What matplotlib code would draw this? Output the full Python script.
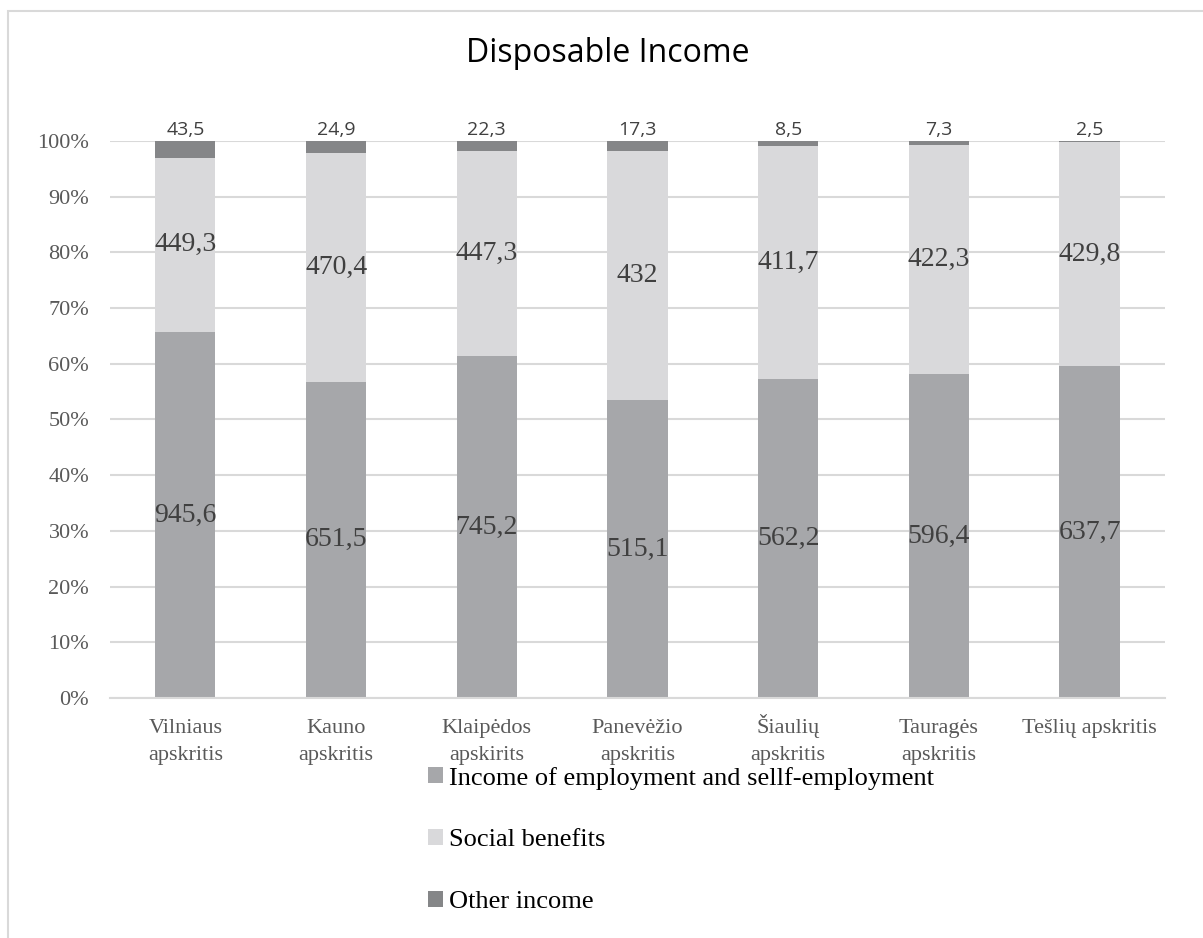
import numpy as np
import matplotlib
matplotlib.use("Agg")
import matplotlib.pyplot as plt
from matplotlib.patches import Patch, Rectangle
from matplotlib.transforms import offset_copy

# --- data ---
categories = ["Vilniaus\napskritis", "Kauno\napskritis", "Klaipėdos\napskirits",
              "Panevėžio\napskritis", "Šiaulių\napskritis", "Tauragės\napskritis",
              "Tešlių apskritis"]
employment = [945.6, 651.5, 745.2, 515.1, 562.2, 596.4, 637.7]
social = [449.3, 470.4, 447.3, 432, 411.7, 422.3, 429.8]
other = [43.5, 24.9, 22.3, 17.3, 8.5, 7.3, 2.5]
series_names = ["Income of employment and sellf-employment", "Social benefits", "Other income"]
colors = ["#a6a7aa", "#d9d9db", "#858688"]

def fmt(v):
    s = f"{v:.1f}".replace(".", ",")
    return s[:-2] if s.endswith(",0") else s

emp = np.array(employment)
soc = np.array(social)
oth = np.array(other)
tot = emp + soc + oth
p_emp = emp / tot * 100
p_soc = soc / tot * 100
p_oth = oth / tot * 100

fig = plt.figure(figsize=(12.03, 9.38), dpi=100)
ax = fig.add_axes([110/1203, 1 - 698/938, (1165-110)/1203, (698-141)/938])

x = np.arange(len(categories))
w = 0.4
ax.bar(x, p_emp, w, color=colors[0], zorder=2)
ax.bar(x, p_soc, w, bottom=p_emp, color=colors[1], zorder=2)
ax.bar(x, p_oth, w, bottom=p_emp + p_soc, color=colors[2], zorder=2)

serif = "Liberation Serif"
for i in range(len(x)):
    ax.text(x[i], p_emp[i] / 2, fmt(emp[i]), ha="center", va="center",
            fontsize=20, family=serif, color="#404040", zorder=3)
    ax.text(x[i], p_emp[i] + p_soc[i] / 2, fmt(soc[i]), ha="center", va="center",
            fontsize=20, family=serif, color="#404040", zorder=3)
    ax.text(x[i], 100.4, fmt(oth[i]), ha="center", va="bottom",
            fontsize=14, family="Open Sans", color="#404040", zorder=3)

ax.set_xlim(-0.5, len(x) - 0.5)
ax.set_ylim(0, 100)
ax.set_yticks(np.arange(0, 101, 10))
ax.set_yticklabels([f"{v}%" for v in range(0, 101, 10)], family=serif, fontsize=16, color="#595959")
ax.set_xticks(x)
ax.set_xticklabels([])
ax.tick_params(length=0)
ax.tick_params(axis="y", pad=15)

# category labels, each line on its own baseline
for i, cat in enumerate(categories):
    for j, line in enumerate(cat.split("\n")):
        tr = offset_copy(ax.get_xaxis_transform(), fig=fig, x=0, y=-(25.2 + 19.6 * j), units="points")
        ax.text(x[i], 0, line, transform=tr, ha="center", va="baseline",
                family=serif, fontsize=16, color="#595959", clip_on=False)

ax.grid(axis="y", color="#d9d9d9", linewidth=1.5, zorder=0)
for s in ["top", "right", "left"]:
    ax.spines[s].set_visible(False)
ax.spines["bottom"].set_color("#d9d9d9")
ax.spines["bottom"].set_linewidth(1.5)
ax.set_axisbelow(True)

fig.text(608/1203, 1 - 54/938, "Disposable Income", ha="center", va="center",
         fontsize=23, family="Open Sans", color="black")

handles = [Patch(facecolor=c, edgecolor="none") for c in colors]
fig.legend(handles, series_names, loc="center left", bbox_to_anchor=(428/1203, 1 - 840/938),
           frameon=False, prop={"family": serif, "size": 19}, handlelength=0.55,
           handleheight=0.55, handletextpad=0.25, labelspacing=1.5, borderpad=0,
           borderaxespad=0)

# chart area border (left and top visible)
fig.patches.append(Rectangle((8/1203, -0.1), 1.2, 1 - 11/938 + 0.1, transform=fig.transFigure,
                             fill=False, edgecolor="#d9d9d9", linewidth=1.5))

fig.savefig("out.png", dpi=100)
